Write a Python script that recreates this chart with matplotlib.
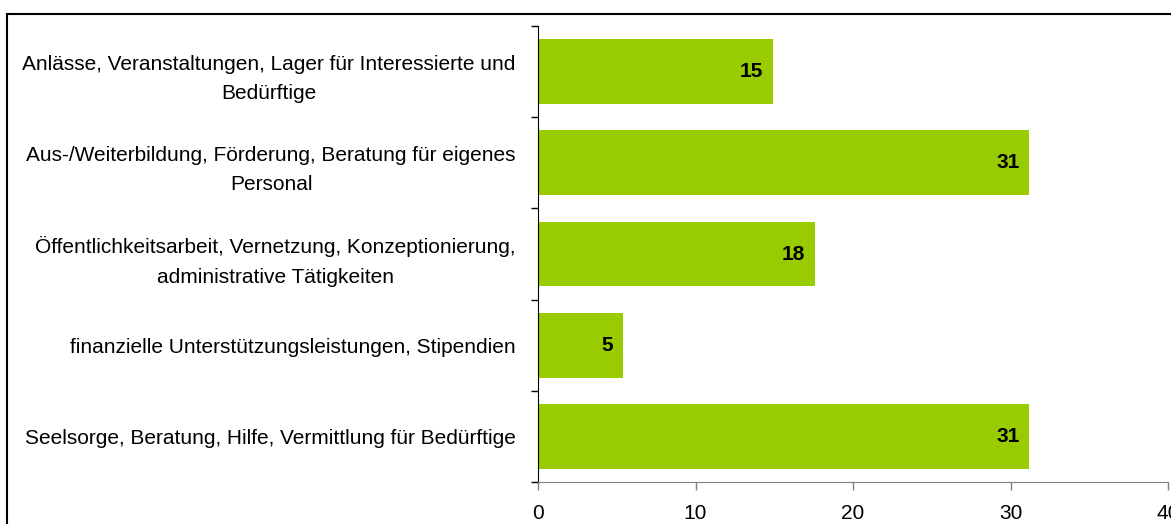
import numpy as np
import matplotlib
matplotlib.use('Agg')
import matplotlib.pyplot as plt
from matplotlib.patches import Rectangle

plt.rcParams['font.family'] = ['Liberation Sans', 'DejaVu Sans']

categories = ['Anlässe, Veranstaltungen, Lager für Interessierte und\nBedürftige',
              'Aus-/Weiterbildung, Förderung, Beratung für eigenes\nPersonal',
              'Öffentlichkeitsarbeit, Vernetzung, Konzeptionierung,\nadministrative Tätigkeiten',
              'finanzielle Unterstützungsleistungen, Stipendien',
              'Seelsorge, Beratung, Hilfe, Vermittlung für Bedürftige']
values = [14.9, 31.2, 17.6, 5.4, 31.2]
x_ticks = [0, 10, 20, 30, 40]

bar_color = '#99CC00'
fs = 15

fig = plt.figure(figsize=(11.71, 5.24), dpi=100)
ax = fig.add_axes([538 / 1171, 42 / 524, 630 / 1171, 456 / 524])

y = np.arange(len(categories))
ax.barh(y, values, height=0.71, color=bar_color)
for yi, v in zip(y, values):
    ax.annotate('%.0f' % v, xy=(v, yi), xytext=(-10, 0), textcoords='offset pixels',
                ha='right', va='center', fontsize=fs, fontweight='bold')

ax.set_xlim(0, 40)
ax.set_ylim(len(categories) - 0.5, -0.5)
ax.set_xticks(x_ticks)
ax.set_xticklabels([str(t) for t in x_ticks], fontsize=fs)
ax.tick_params(axis='x', length=6, width=1, color='#808080', pad=10)

# ticks on category boundaries, labels at centres
ax.set_yticks(np.arange(len(categories) + 1) - 0.5)
ax.set_yticklabels([])
ax.tick_params(axis='y', which='major', length=5, width=1, color='black')
ax.set_yticks(y, minor=True)
ax.set_yticklabels(categories, minor=True, fontsize=fs, linespacing=1.7)
ax.tick_params(axis='y', which='minor', length=0, pad=16)
for lab in ax.get_yticklabels(minor=True):
    lab.set_multialignment('center')

for s in ['top', 'right']:
    ax.spines[s].set_visible(False)
ax.spines['bottom'].set_color('#808080')
ax.spines['left'].set_color('black')

# frame round the whole chart (cut off at right and bottom)
fig.patches.append(Rectangle((7 / 1171, -0.2), 1.2, (524 - 14) / 524 + 0.2,
                             transform=fig.transFigure, fill=False,
                             edgecolor='black', linewidth=1.5))

fig.savefig('out.png', dpi=100)
